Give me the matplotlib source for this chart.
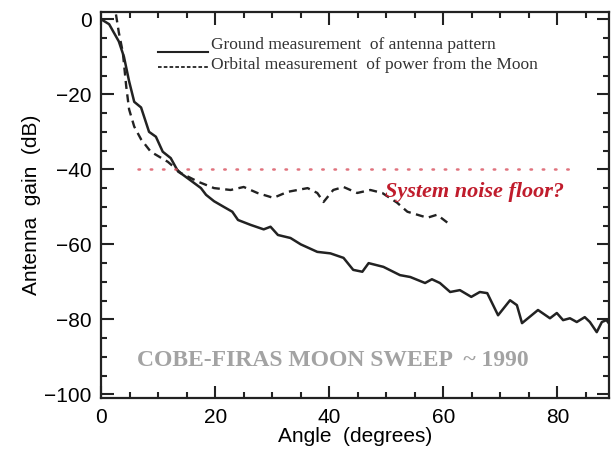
import matplotlib.pyplot as plt
from matplotlib.ticker import MultipleLocator

# Ground measurement of the antenna pattern (angle in deg, gain in dB)
ground_angle = [0, 1.4, 3.1, 4.0, 4.9, 5.8, 7.0, 8.4, 9.6, 10.8, 12.2, 13.5, 14.3,
                16.0, 17.5, 18.4, 19.8, 21.5, 23.0, 24.0, 26.2, 28.5, 29.7, 31.0,
                33.2, 35.0, 37.9, 40.2, 42.5, 44.2, 45.8, 46.9, 49.5, 52.4, 54.2,
                56.8, 58.0, 59.4, 61.2, 62.9, 64.9, 66.4, 67.7, 69.6, 71.7, 72.9,
                73.8, 76.6, 78.7, 79.9, 81.0, 82.2, 83.4, 84.8, 85.7, 86.9, 87.8,
                88.6, 89.5]
ground_gain = [0, -1.3, -5.9, -10.0, -16.5, -22.0, -23.5, -30.0, -31.3, -35.3, -37.0,
               -40.6, -41.4, -43.3, -45.0, -46.8, -48.5, -50.0, -51.3, -53.5, -54.8,
               -56.0, -55.3, -57.5, -58.3, -60.0, -62.0, -62.4, -63.6, -66.8, -67.3,
               -65.0, -66.0, -68.2, -68.7, -70.3, -69.3, -70.3, -72.7, -72.2, -74.0,
               -72.7, -73.0, -78.9, -74.9, -76.2, -81.0, -77.5, -79.7, -78.3, -80.2,
               -79.7, -80.7, -79.4, -80.7, -83.4, -80.7, -80.2, -82.0]

# Orbital measurement of power from the Moon
orbit_angle = [2.6, 3.1, 3.8, 4.4, 4.9, 5.8, 7.0, 8.7, 11.7, 14.0, 17.0, 19.8, 22.7,
               25.0, 27.4, 30.2, 32.7, 36.2, 37.9, 39.0, 40.7, 42.5, 44.9, 47.2,
               49.3, 51.9, 53.7, 57.2, 58.9, 60.8]
orbit_gain = [1.3, -3.5, -8.8, -17.9, -24.0, -28.6, -32.0, -35.3, -38.0, -41.0, -43.3,
              -45.0, -45.5, -44.7, -46.3, -47.6, -46.0, -45.0, -46.3, -48.7, -45.5,
              -44.7, -46.3, -45.5, -46.3, -48.9, -51.3, -52.9, -52.1, -54.3]

noise_floor = -40
noise_span = [6.5, 83.6]

fig = plt.figure(figsize=(6.13, 4.54), dpi=100)
ax = fig.add_axes([0.165, 0.123, 0.828, 0.851])

ax.plot(ground_angle, ground_gain, color="#222222", lw=1.8)
ax.plot(orbit_angle, orbit_gain, color="#222222", lw=1.7, ls=(0, (3.4, 2.3)))
ax.plot(noise_span, [noise_floor, noise_floor], color="#d9505e", lw=1.8,
        ls=(0, (0.6, 4.3)), dash_capstyle="round", alpha=0.8)

ax.set_xlim(0, 89)
ax.set_ylim(-101, 2)
ax.xaxis.set_major_locator(MultipleLocator(20))
ax.xaxis.set_minor_locator(MultipleLocator(5))
ax.yaxis.set_major_locator(MultipleLocator(20))
ax.yaxis.set_minor_locator(MultipleLocator(5))
ax.tick_params(which="both", direction="in", top=True, right=True, width=1.5,
               color="#222222")
ax.tick_params(which="major", length=9, labelsize=15, pad=7)
ax.tick_params(which="minor", length=4.5)
for lab in ax.get_xticklabels() + ax.get_yticklabels():
    lab.set_family("Liberation Sans")
for s in ax.spines.values():
    s.set_linewidth(1.6)
    s.set_color("#222222")

ax.set_xlabel("Angle  (degrees)", fontsize=15, family="Liberation Sans", labelpad=0)
ax.set_ylabel("Antenna  gain  (dB)", fontsize=15, family="Liberation Sans", labelpad=2)

# hand-drawn style legend
serif = "Liberation Serif"
ax.plot([10.0, 18.8], [-8.8, -8.8], color="#222222", lw=1.5)
ax.plot([10.0, 18.8], [-12.6, -12.6], color="#222222", lw=1.3, ls=(0, (2, 1.2)))
ax.text(19.3, -6.9, "Ground measurement  of antenna pattern", family=serif,
        fontsize=12.5, color="#333333", va="center")
ax.text(19.3, -12.3, "Orbital measurement  of power from the Moon", family=serif,
        fontsize=12.5, color="#333333", va="center")

ax.text(49.8, -46, "System noise floor?", family=serif, fontsize=16,
        color="#c01c2c", style="italic", weight="bold", va="center")
ax.text(6.3, -91, "COBE-FIRAS MOON SWEEP  ~ 1990", family=serif, fontsize=17,
        color="#a3a3a3", weight="bold", va="center")

fig.savefig("out.png", dpi=100)
